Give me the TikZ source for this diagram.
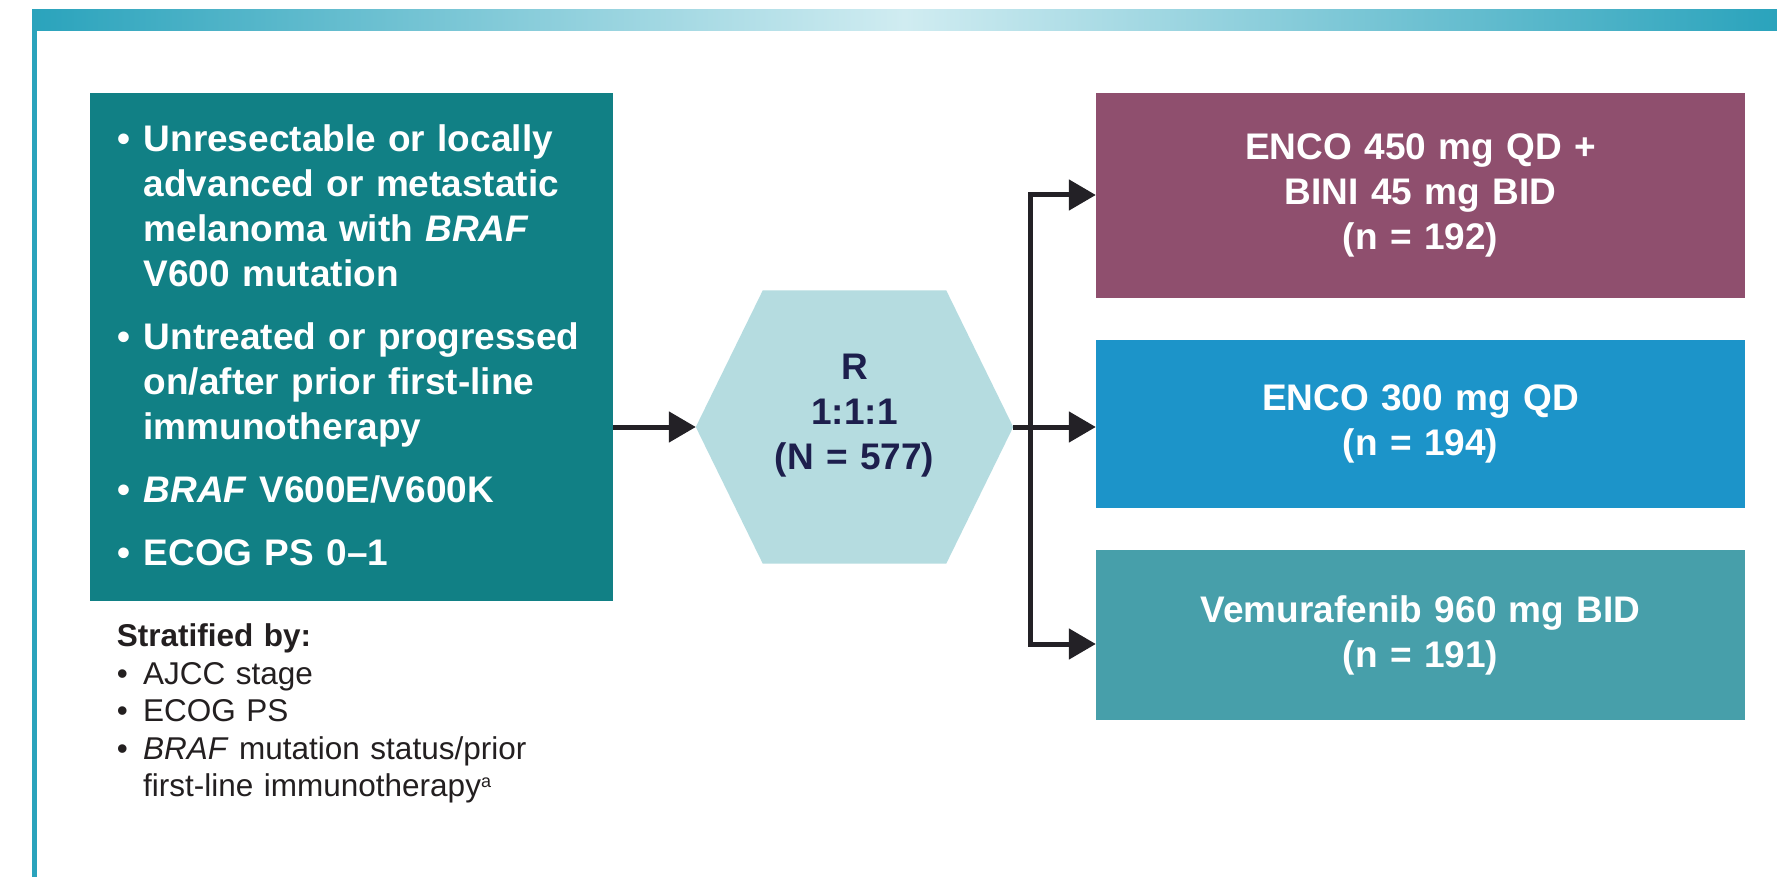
\documentclass[tikz,border=0pt]{standalone}
\usepackage{fontspec}
\setmainfont{Liberation Sans}
\usetikzlibrary{arrows.meta,backgrounds,calc}
\definecolor{bandc}{RGB}{42,163,188}
\definecolor{bandmid}{RGB}{208,236,241}
\definecolor{incc}{RGB}{17,128,133}
\definecolor{armA}{RGB}{143,79,110}
\definecolor{armB}{RGB}{28,148,201}
\definecolor{armC}{RGB}{71,159,170}
\definecolor{hexc}{RGB}{181,220,224}
\definecolor{hextextc}{RGB}{29,31,77}
\definecolor{linec}{RGB}{35,33,38}
\definecolor{darktext}{RGB}{35,31,32}
\newcommand\mybul{\makebox[26.5pt][l]{•}}
\newcommand\myind{\hspace*{26.5pt}}
\newcommand\mysbul{\makebox[26.3pt][l]{•}}
\newcommand\mysind{\hspace*{26.3pt}}
\newcommand\mysupa{\raisebox{9pt}{\fontsize{18}{18}\selectfont a}}
\tikzset{
  bigfont/.style={font=\fontsize{37}{45}\selectfont\bfseries},
  incbox/.style={fill=incc, inner sep=0pt, minimum width=523.5pt, minimum height=508pt},
  armbox/.style={inner sep=0pt, minimum width=649pt, text width=640pt, align=center, text=white, bigfont},
  inctext/.style={inner sep=0pt, text width=480pt, align=left, text=white, bigfont},
  hexholder/.style={inner sep=0pt, minimum width=317pt, minimum height=273pt},
  hextxt/.style={inner sep=0pt, text width=300pt, align=center, text=hextextc, bigfont},
  strattext/.style={inner sep=0pt, text width=500pt, align=left, text=darktext, font=\fontsize{31.5}{37.5}\selectfont},
  conn/.style={draw=linec, line width=5pt},
  tip/.tip={Triangle[length=27pt,width=30pt]}
}
\begin{document}
\begin{tikzpicture}[x=1pt,y=-1pt]
\useasboundingbox (0,0) rectangle (1777,877);
\begin{scope}[on background layer]
\fill[white] (0,0) rectangle (1777,877);
\end{scope}
% frame
\shade[left color=bandc, right color=bandc, middle color=bandmid] (32,10) rectangle (1777,31);
\fill[bandc] (32,31) rectangle (37,877);

% inclusion box
\node[incbox] (inc) at (351.25,347) {};
\node[inctext, anchor=base west] (inctxt) at (117,152) {%
\mybul Unresectable or locally\\
\myind advanced or metastatic\\
\myind melanoma with \textit{BRAF}\\
\myind V600 mutation\\[18pt]
\mybul Untreated or progressed\\
\myind on/after prior first-line\\
\myind immunotherapy\\[18pt]
\mybul \textit{BRAF} V600E/V600K\\[18pt]
\mybul ECOG PS 0–1};

% stratification
\node[strattext, anchor=base west] (strat) at (116.7,646.7) {%
\textbf{Stratified by:}\\
\mysbul AJCC stage\\
\mysbul ECOG PS\\
\mysbul \textit{BRAF} mutation status/prior\\
\mysind first-line immunotherapy\mysupa};

% hexagon
\node[hexholder] (hex) at (854.5,427) {};
\begin{scope}[on background layer]
\fill[hexc] (hex.west) -- ([xshift=67pt]hex.north west) -- ([xshift=-67pt]hex.north east)
  -- (hex.east) -- ([xshift=-67pt]hex.south east) -- ([xshift=67pt]hex.south west) -- cycle;
\end{scope}
\node[hextxt, anchor=base] (hexlbl) at (854.5,379) {R\\1:1:1\\(N = 577)};

% arms
\node[armbox, fill=armA, minimum height=205pt] (arm1) at (1420.5,195.5) {ENCO 450 mg QD +\\BINI 45 mg BID\\(n = 192)};
\node[armbox, fill=armB, minimum height=168pt] (arm2) at (1420.5,424) {ENCO 300 mg QD\\(n = 194)};
\node[armbox, fill=armC, minimum height=170pt] (arm3) at (1420.5,635) {Vemurafenib 960 mg BID\\(n = 191)};

% connectors
\coordinate (vtop) at (1030,195);
\coordinate (vbot) at (1030,644);
\draw[conn, -tip] (inc.east |- hex.west) -- (hex.west);
\draw[conn, tip-tip] (arm1.west |- vtop) -- (vtop) -- (vbot) -- (arm3.west |- vbot);
\draw[conn, -tip] (hex.east) -- (hex.east -| arm2.west);
\end{tikzpicture}
\end{document}
